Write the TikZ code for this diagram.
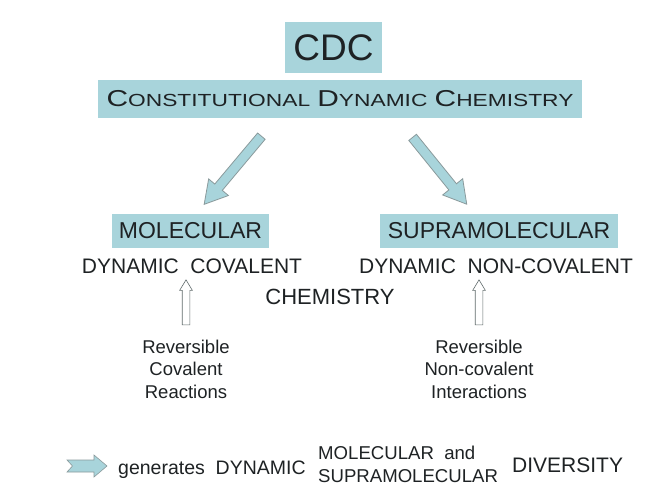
\documentclass[tikz,border=0pt]{standalone}
\usepackage{fontspec}
\setmainfont{Liberation Sans}
\usetikzlibrary{shapes.arrows,positioning}
\definecolor{BoxBlue}{HTML}{A8D4DB}
\definecolor{EdgeGray}{HTML}{8A9A9C}
\definecolor{Ink}{HTML}{1E2224}
\newcommand\fsz[2]{\fontsize{#1}{#2}\selectfont}
% fake small caps: big first letter, smaller rest
\newcommand\capsc[2]{{\fsz{23}{27}#1}{\fsz{17.5}{21}#2}}

\begin{document}
\begin{tikzpicture}[x=1pt,y=-1pt,
    box/.style={fill=BoxBlue,text=Ink,inner sep=0pt},
    lbl/.style={text=Ink,inner sep=0pt},
    fatarrow/.style={single arrow,draw=EdgeGray,fill=BoxBlue,line width=0.8pt,
      inner xsep=0pt,inner ysep=4.5pt,single arrow head extend=8pt,
      single arrow tip angle=60},
    uparrow/.style={single arrow,draw=EdgeGray!70!black,fill=white,line width=0.6pt,
      inner xsep=0pt,inner ysep=3.5pt,single arrow head extend=2.5pt,
      single arrow tip angle=62,minimum height=45pt,rotate=90}]
  \fill[white] (0,0) rectangle (664,494);
  \useasboundingbox (0,0) rectangle (664,494);

  % title boxes
  \node[box,minimum width=97pt,minimum height=51pt,font=\fsz{37}{44}] (cdc) at (333.5,47.5) {CDC};
  \node[box,minimum width=484pt,minimum height=38pt] (cdchem) at (340,99)
    {\scalebox{1.3}[1]{\capsc{C}{ONSTITUTIONAL}\ \ \capsc{D}{YNAMIC}\ \ \capsc{C}{HEMISTRY}}};

  % the two branches
  \node[fatarrow,minimum height=89pt,rotate=-130] (toMol) at (235.5,167) {};
  \node[fatarrow,minimum height=86pt,rotate=-51] (toSupra) at (437,167.5) {};

  \node[box,minimum width=157pt,minimum height=34pt,font=\fsz{23}{27}] (mol) at (190.5,231) {MOLECULAR};
  \node[box,minimum width=238pt,minimum height=34pt,font=\fsz{23}{27}] (supra) at (499,231) {SUPRAMOLECULAR};

  \node[lbl,font=\fsz{21}{25}] (dynCov) at (192,266) {DYNAMIC\ \ COVALENT};
  \node[lbl,font=\fsz{21}{25}] (dynNon) at (496,266) {DYNAMIC\ \ NON-COVALENT};
  \node[lbl,font=\fsz{22}{26}] (chem) at (330,297) {CHEMISTRY};

  \foreach \x/\name in {186/upCov,479/upNon}
    \node[uparrow] (\name) at (\x,305.5) {};

  \node[lbl,font=\fsz{18.5}{22.5},align=center] (revCov) at (186,369)
    {Reversible\\Covalent\\Reactions};
  \node[lbl,font=\fsz{18.5}{22.5},align=center] (revNon) at (479,369)
    {Reversible\\Non-covalent\\Interactions};

  % legend line
  \filldraw[fill=BoxBlue,draw=EdgeGray,line width=0.6pt]
    (67,460) -- (94,460) -- (94,455) -- (107,466) -- (94,477) -- (94,472)
    -- (67,472) -- (72.5,466) -- cycle;
  \node[lbl,font=\fsz{19.5}{23},anchor=base west] (gen) at (118,474) {generates\ \ DYNAMIC};
  \node[lbl,font=\fsz{18.6}{23},align=left,anchor=west] (molSup) at (318,464.5)
    {MOLECULAR\ \ and\\SUPRAMOLECULAR};
  \node[lbl,font=\fsz{21}{25},anchor=west] (div) at (512,465) {DIVERSITY};
\end{tikzpicture}
\end{document}
